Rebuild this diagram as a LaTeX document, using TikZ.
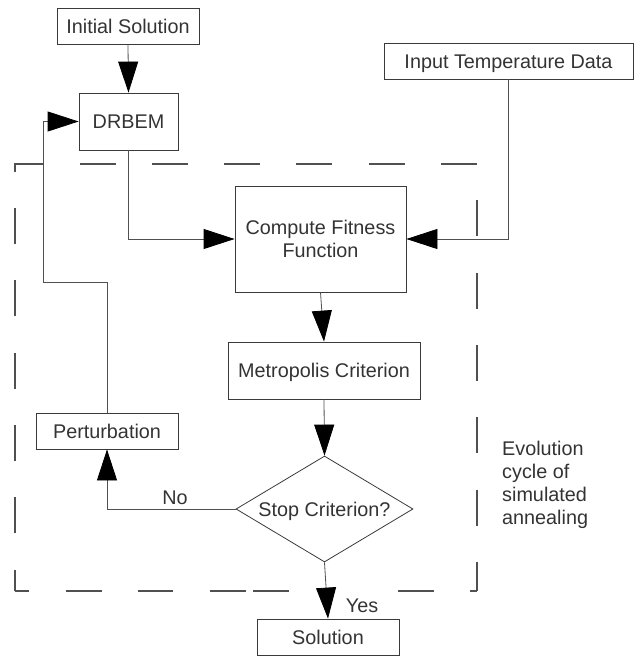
\documentclass[tikz,border=0pt]{standalone}
\usepackage{fontspec}
\setmainfont{Liberation Sans}
\usetikzlibrary{arrows.meta,shapes.geometric}
\definecolor{txt}{HTML}{333333}
\definecolor{edge}{HTML}{3A3A3A}
\definecolor{conn}{HTML}{505050}
\begin{document}
\begin{tikzpicture}[x=1pt,y=-1pt,
  font=\fontsize{19.8pt}{23pt}\selectfont,
  oneline/.style={text height=14.3pt, text depth=0pt},
  box/.style={draw=edge, line width=0.8pt, text=txt, inner sep=0pt, align=center},
  dia/.style={draw=edge, line width=0.8pt, text=txt, diamond, aspect=1.67, inner sep=0pt, oneline},
  link/.style={draw=conn, line width=0.8pt},
  arr/.style={link, -{Triangle[length=31pt,width=20pt,fill=black,color=black]}},
  frame/.style={draw=conn, line width=1.1pt},
  lbl/.style={text=txt, inner sep=0pt}]
\useasboundingbox (0,0) rectangle (635,656);
\node[box, oneline, minimum width=142pt, minimum height=36pt] (init) at (128,26) {Initial Solution};
\node[box, oneline, minimum width=99pt, minimum height=57pt] (drbem) at (128.5,121.5) {DRBEM};
\node[box, oneline, minimum width=249pt, minimum height=36pt] (itd) at (508.5,61) {Input Temperature Data};
\node[box, minimum width=171pt, minimum height=106pt] (cf) at (320.5,239) {Compute Fitness\\Function};
\node[box, oneline, minimum width=192pt, minimum height=57pt] (mc) at (324,370.5) {Metropolis Criterion};
\node[box, oneline, minimum width=142pt, minimum height=36pt] (pert) at (107,431) {Perturbation};
\node[dia, minimum width=177pt, minimum height=106pt] (sc) at (324.5,509) {Stop Criterion?};
\node[box, oneline, minimum width=142pt, minimum height=36pt] (sol) at (328,637) {Solution};
\node[lbl, anchor=west, align=left] (evo) at (502,484.5) {Evolution\\cycle of\\simulated\\annealing};
\node[lbl, oneline] (no) at (175,497) {No};
\node[lbl, oneline] (yes) at (362,605) {Yes};
\coordinate (bendA) at (43,282);
% dashed frame
\draw[frame, dash pattern=on 36pt off 36.3pt, dash phase=14.6pt] (15,591) -- (15,164) -- (477,164) -- (477,591);
\draw[frame, dash pattern=on 14pt off 37pt on 36pt off 36pt on 35pt off 37pt on 36pt off 7pt on 36pt off 109pt on 36pt off 36pt on 7pt] (15,591) -- (477,591);
% connectors
\draw[arr] (init.south) -- (drbem.north);
\draw[arr] (drbem.south) |- (cf.west);
\draw[arr] (itd.south) |- (cf.east);
\draw[arr] (cf.south) -- (mc.north);
\draw[arr] (mc.south) -- (sc.north);
\draw[arr] (sc.south) -- (sol.north);
\draw[arr] (sc.west) -| (pert.south);
\draw[arr] (pert.north) |- (bendA) |- (drbem.west);
\end{tikzpicture}
\end{document}
